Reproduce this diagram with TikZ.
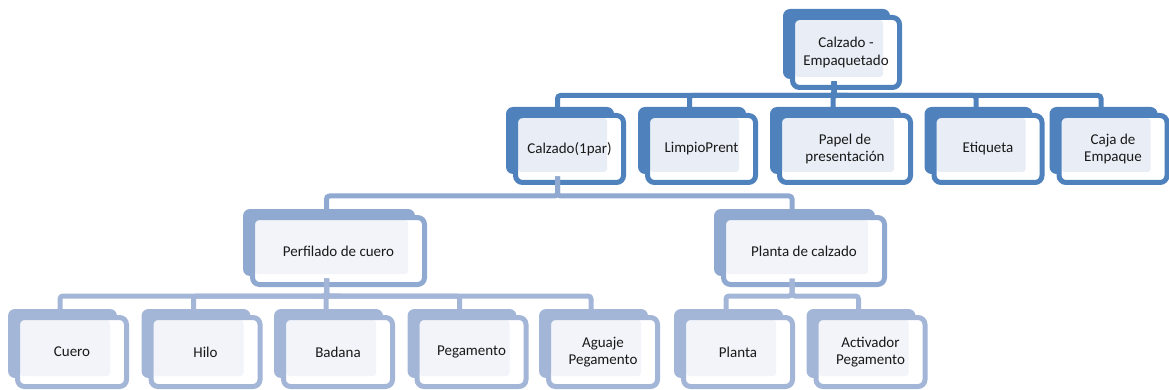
\documentclass[tikz,border=0pt]{standalone}
\usepackage{fontspec}
\setmainfont{Carlito}
\usepackage{xcolor}
\usetikzlibrary{positioning}

\definecolor{blueA}{HTML}{4F81BD}
\definecolor{blueB}{HTML}{8FA9D1}
\definecolor{blueC}{HTML}{A3B6D8}
\definecolor{paleA}{HTML}{E9EEF6}
\definecolor{paleB}{HTML}{F2F4F9}

\tikzset{
  orgbox/.style 2 args={draw=#1, line width=5pt, fill=white, rounded corners=7pt,
    outer sep=0pt, inner sep=2pt, align=center, text=black!90,
    font=\fontsize{15}{17.5}\selectfont,
    preaction={fill=#1, draw=none, transform canvas={shift={(-9.5pt,8.5pt)}}},
    path picture={\fill[#2, rounded corners=3pt]
      ([shift={(2.5pt,-2.5pt)}]path picture bounding box.north west) rectangle
      ([shift={(-16.5pt,10.5pt)}]path picture bounding box.south east);}},
  lvlone/.style={orgbox={blueA}{paleA}, minimum width=107pt, minimum height=70pt},
  lvltwo/.style={orgbox={blueA}{paleA}, minimum width=108pt, minimum height=67pt},
  lvlthree/.style={orgbox={blueB}{paleB}, minimum height=67pt},
  lvlfour/.style={orgbox={blueC}{paleB}, minimum width=109pt, minimum height=69pt},
  bus/.style={draw=#1, line width=5pt, rounded corners=3pt}
}

\begin{document}
\begin{tikzpicture}[x=1pt, y=-1pt]
\useasboundingbox (0,0) rectangle (1169,390);
% top
\node[lvlone] (top) at (846,52.5) {Calzado -\\Empaquetado};
% second row
\node[lvltwo] (cz) at (569.5,149) {Calzado(1par)};
\node[lvltwo] (lp) at (701.5,149) {LimpioPrent};
\node[lvltwo, minimum width=131pt] (pp) at (845,149) {Papel de\\presentación};
\node[lvltwo] (et) at (988,149) {Etiqueta};
\node[lvltwo] (cj) at (1113,149) {Caja de\\Empaque};
% third row
\node[lvlthree, minimum width=172pt] (pc) at (338.5,251) {Perfilado de cuero};
\node[lvlthree, minimum width=161pt] (pl) at (804,251) {Planta de calzado};
% fourth row
\node[lvlfour] (cu) at (72,352) {Cuero};
\node[lvlfour] (hi) at (205.5,352) {Hilo};
\node[lvlfour] (ba) at (338,352) {Badana};
\node[lvlfour] (pg) at (471.5,352) {Pegamento};
\node[lvlfour] (ag) at (603,352) {Aguaje\\Pegamento};
\node[lvlfour] (pt) at (738,352) {Planta};
\node[lvlfour] (ac) at (870.5,352) {Activador\\Pegamento};

% connectors
\foreach \c in {cz,lp,pp,et,cj}
  \draw[bus=blueA] ([xshift=-12pt,yshift=6pt]top.south) -- ++(0,14)
    -| ([xshift=-12pt,yshift=8.5pt]\c.north);
\foreach \c in {pc,pl}
  \draw[bus=blueB] ([xshift=-12pt,yshift=6pt]cz.south) -- ++(0,19.5)
    -| ([xshift=-12pt,yshift=8.5pt]\c.north);
\foreach \c in {cu,hi,ba,pg,ag}
  \draw[bus=blueC] ([xshift=-12pt,yshift=6pt]pc.south) -- ++(0,17.5)
    -| ([xshift=-12pt,yshift=8.5pt]\c.north);
\foreach \c in {pt,ac}
  \draw[bus=blueC] ([xshift=-12pt,yshift=6pt]pl.south) -- ++(0,17.5)
    -| ([xshift=-12pt,yshift=8.5pt]\c.north);
\end{tikzpicture}
\end{document}
